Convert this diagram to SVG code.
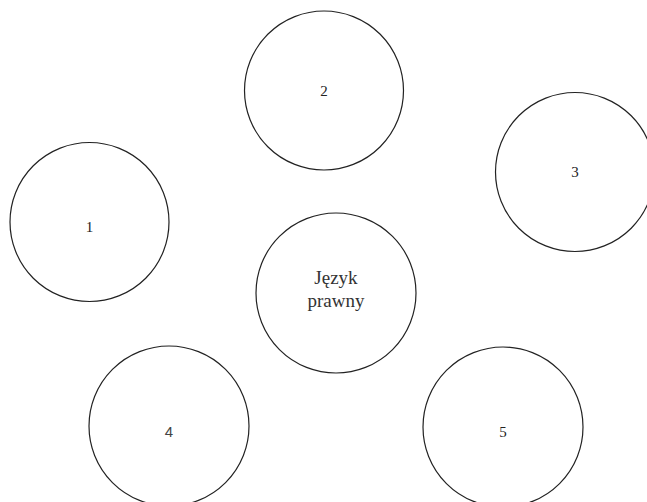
<svg xmlns="http://www.w3.org/2000/svg" width="647" height="502" viewBox="0 0 647 502">
<style>
.c{fill:#fff;stroke:#222;stroke-width:1.2}
.t{font-family:"Liberation Serif",serif;font-size:15px;fill:#222;text-anchor:middle}
.m{font-family:"Liberation Serif",serif;font-size:19px;fill:#333;text-anchor:middle}
.s{font-family:"Liberation Sans",sans-serif;font-size:15px;fill:#444;text-anchor:middle}
</style>
<rect width="647" height="502" fill="#fff"/>
<g id="connectors"></g>
<g id="n2"><circle class="c" cx="324" cy="90.5" r="79.5"/><text class="t" x="324" y="96">2</text></g>
<g id="n3"><circle class="c" cx="575" cy="172" r="79.5"/><text class="t" x="575" y="177">3</text></g>
<g id="n1"><circle class="c" cx="89.5" cy="222" r="79.5"/><text class="t" x="89.5" y="232">1</text></g>
<g id="center"><circle class="c" cx="336" cy="293" r="80"/><text class="m" x="336" y="284">Język</text><text class="m" x="336" y="307">prawny</text></g>
<g id="n4"><circle class="c" cx="169" cy="426" r="80"/><text class="s" x="169" y="437">4</text></g>
<g id="n5"><circle class="c" cx="503" cy="427" r="80"/><text class="t" x="503" y="437">5</text></g>
</svg>
